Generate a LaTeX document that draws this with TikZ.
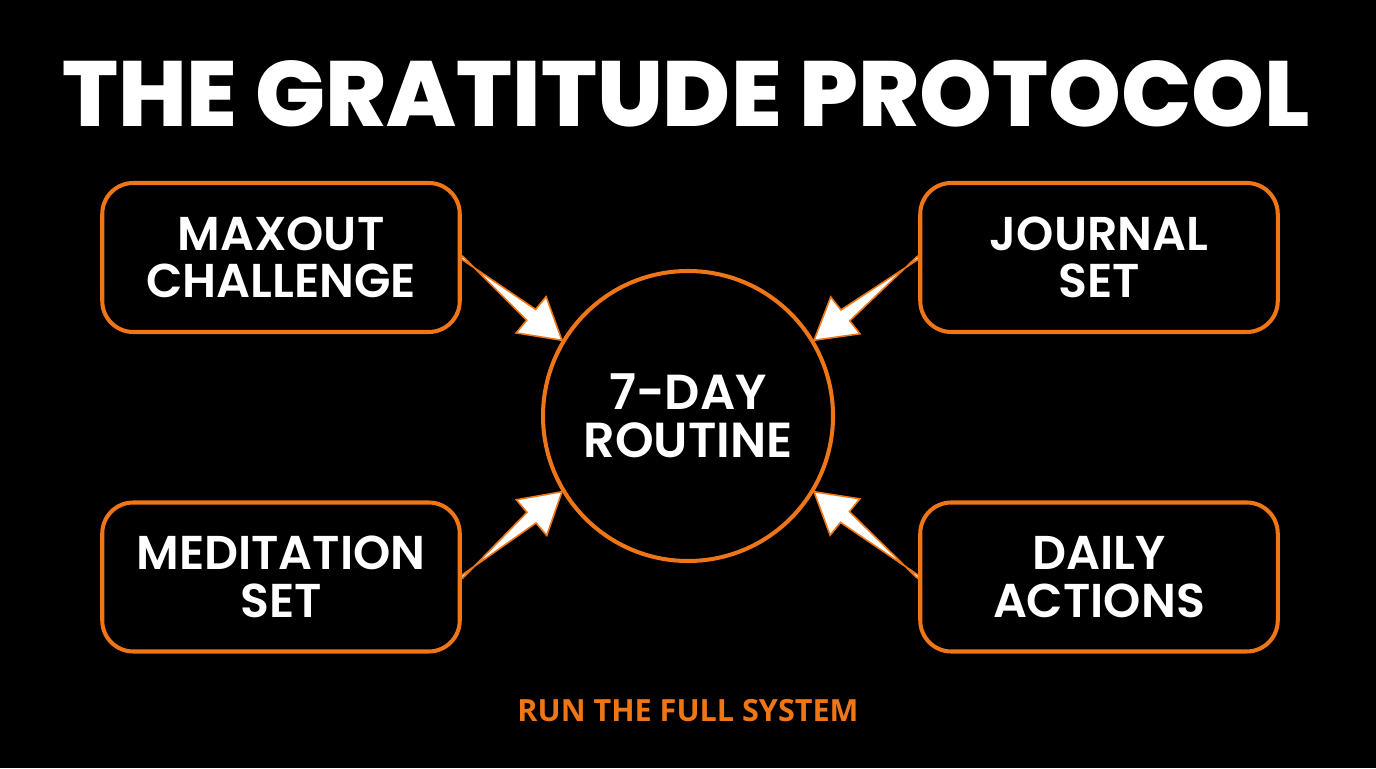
\documentclass[tikz,border=0pt]{standalone}
\usepackage{fontspec}
\setmainfont{Poppins}
\newfontfamily\cardfont{Poppins SemiBold}
\newfontfamily\titlefont{Poppins ExtraBold}
\newfontfamily\footfont{Open Sans}
\usetikzlibrary{calc, positioning}
\definecolor{protoorange}{RGB}{238,118,22}

\tikzset{
  stepcard/.style={draw=protoorange, fill=black, line width=2.3pt, rounded corners=0.62cm,
    minimum width=7.15cm, minimum height=2.98cm, align=center, text=white,
    font=\cardfont\fontsize{27}{27}\selectfont},
  hub/.style={circle, draw=protoorange, fill=black, line width=2.3pt, minimum size=5.8cm,
    align=center, text=white, font=\cardfont\fontsize{28}{27}\selectfont},
  feed/.style={fill=white, draw=protoorange, line width=0.9pt, line join=miter,
    to path={
      ($(\tikztostart)!0.03cm!90:(\tikztotarget)$)
      -- ($(\tikztotarget)!0.8cm!(\tikztostart)!0.14cm!-90:(\tikztotarget)$)
      -- ($(\tikztotarget)!0.8cm!(\tikztostart)!0.47cm!-90:(\tikztotarget)$)
      -- (\tikztotarget)
      -- ($(\tikztotarget)!0.8cm!(\tikztostart)!0.47cm!90:(\tikztotarget)$)
      -- ($(\tikztotarget)!0.8cm!(\tikztostart)!0.14cm!90:(\tikztotarget)$)
      -- ($(\tikztostart)!0.03cm!-90:(\tikztotarget)$) -- cycle}}
}

\begin{document}
\begin{tikzpicture}
  \fill[black] (0,0) rectangle (27.52,15.36);
  \useasboundingbox (0,0) rectangle (27.52,15.36);

  \node[text=white, font=\titlefont\fontsize{52.7}{52.7}\selectfont] (title) at (13.72,13.48) {THE GRATITUDE PROTOCOL};

  \node[hub] (hub) at (13.76,7.04) {7-DAY\\ROUTINE};

  \node[stepcard] (maxout) at (5.62,10.21) {MAXOUT\\CHALLENGE};
  \node[stepcard] (journal) at (21.98,10.21) {JOURNAL\\SET};
  \node[stepcard] (meditation) at (5.62,3.82) {MEDITATION\\SET};
  \node[stepcard] (daily) at (21.98,3.82) {DAILY\\ACTIONS};

  \draw[feed] (maxout.east) to (hub.149);
  \draw[feed] (meditation.east) to (hub.211);
  \draw[feed] (journal.west) to (hub.31);
  \draw[feed] (daily.west) to (hub.-31);

  \node[text=protoorange, font=\footfont\bfseries\fontsize{17.4}{17.4}\selectfont] (footer) at (13.76,1.14) {RUN THE FULL SYSTEM};
\end{tikzpicture}
\end{document}
